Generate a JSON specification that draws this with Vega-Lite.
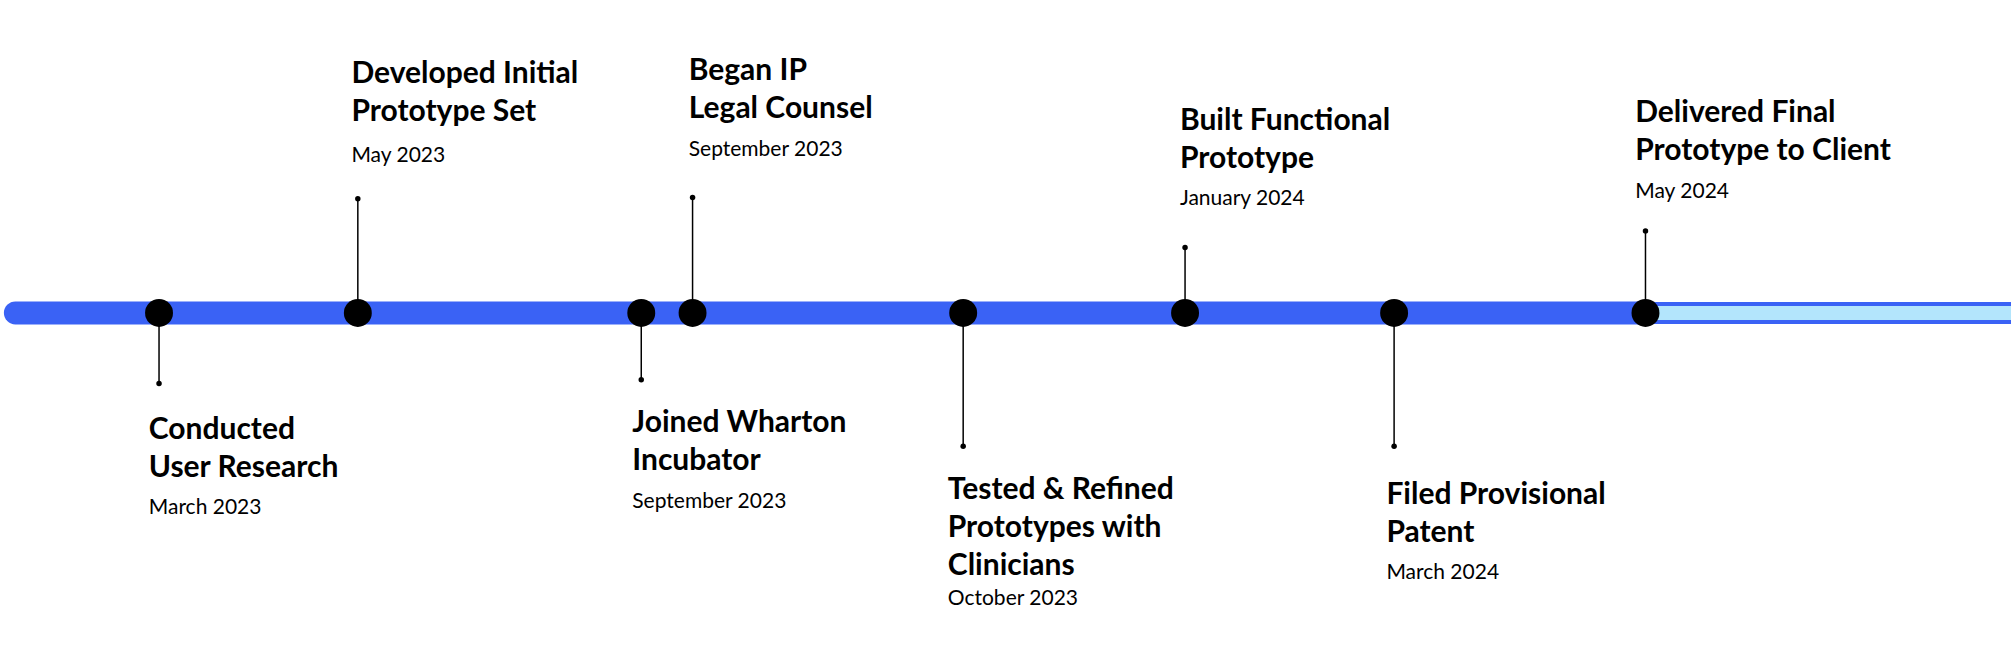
{
"$schema":"https://vega.github.io/schema/vega-lite/v6.json",
"width":2011,"height":658,"autosize":{"type":"fit","contains":"padding"},"padding":0,
"background":"white","config":{"view":{"stroke":null}},
"datasets":{
"events":[
{"title":"Conducted\nUser Research","date":"March 2023","x":124,"line":244,"tip":299,"ty":335,"dy":396,"tx":116},
{"title":"Developed Initial\nPrototype Set","date":"May 2023","x":279,"line":244,"tip":155,"ty":58,"dy":122,"tx":274},
{"title":"Joined Wharton\nIncubator","date":"September 2023","x":500,"line":244,"tip":296,"ty":330,"dy":391,"tx":493},
{"title":"Began IP\nLegal Counsel","date":"September 2023","x":540,"line":244,"tip":154,"ty":55,"dy":117,"tx":537},
{"title":"Tested & Refined\nPrototypes with\nClinicians","date":"October 2023","x":751,"line":244,"tip":348,"ty":382,"dy":467,"tx":739},
{"title":"Built Functional\nPrototype","date":"January 2024","x":924,"line":244,"tip":193,"ty":94,"dy":155,"tx":920},
{"title":"Filed Provisional\nPatent","date":"March 2024","x":1087,"line":244,"tip":348,"ty":386,"dy":447,"tx":1081},
{"title":"Delivered Final\nPrototype to Client","date":"May 2024","x":1283,"line":244,"tip":180,"ty":88,"dy":150,"tx":1275}
],
"track":[{"seg":"done","x":12,"x2":1283,"y":244},{"seg":"future","x":1283,"x2":1580,"y":244}]
},
"encoding":{
 "x":{"field":"x","type":"quantitative","scale":{"domain":[0,1568],"nice":false,"zero":false},"axis":null}
},
"layer":[
{"data":{"name":"track"},"transform":[{"filter":"datum.seg=='done'"}],"mark":{"type":"rule","strokeWidth":23,"strokeCap":"round","color":"#3a62f5"},
 "encoding":{"x2":{"field":"x2"},
 "y":{"field":"y","type":"quantitative","scale":{"domain":[513,0],"nice":false,"zero":false},"axis":null}}},
{"data":{"name":"track"},"transform":[{"filter":"datum.seg=='future'"}],"mark":{"type":"rule","strokeWidth":22,"color":"#3a62f5","clip":true},
 "encoding":{"x2":{"field":"x2"},"y":{"field":"y","type":"quantitative"}}},
{"data":{"name":"track"},"transform":[{"filter":"datum.seg=='future'"}],"mark":{"type":"rule","strokeWidth":14,"color":"#b3e5fc","clip":true},
 "encoding":{"x2":{"field":"x2"},"y":{"field":"y","type":"quantitative"}}},
{"data":{"name":"events"},"mark":{"type":"rule","strokeWidth":1.5,"color":"black"},
 "encoding":{"y":{"field":"line","type":"quantitative"},"y2":{"field":"tip"}}},
{"data":{"name":"events"},"mark":{"type":"circle","size":30,"opacity":1,"color":"black"},
 "encoding":{"y":{"field":"tip","type":"quantitative"}}},
{"data":{"name":"events"},"mark":{"type":"circle","size":780,"opacity":1,"color":"black"},
 "encoding":{"y":{"field":"line","type":"quantitative"}}},
{"data":{"name":"events"},"mark":{"type":"text","align":"left","baseline":"middle","font":"Lato","fontWeight":"bold","fontSize":30,"lineHeight":38,"lineBreak":"\n","color":"black"},
 "encoding":{"x":{"field":"tx","type":"quantitative"},"y":{"field":"ty","type":"quantitative"},"text":{"field":"title"}}},
{"data":{"name":"events"},"mark":{"type":"text","align":"left","baseline":"middle","font":"Lato","fontSize":21,"color":"black"},
 "encoding":{"x":{"field":"tx","type":"quantitative"},"y":{"field":"dy","type":"quantitative"},"text":{"field":"date"}}}
]
}
